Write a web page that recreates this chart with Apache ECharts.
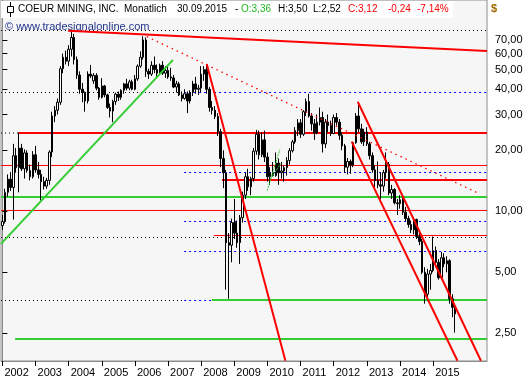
<!DOCTYPE html>
<html><head><meta charset="utf-8">
<script src="https://cdn.jsdelivr.net/npm/echarts@6/dist/echarts.min.js"></script>
<style>html,body{margin:0;padding:0;background:#fff}#c{width:523px;height:380px}</style>
</head><body><div id="c"></div>
<script>
// ---------- DATA ----------
const firstYear = 2002;
const monthCount = 176; // Jan 2002 .. Aug 2016 (axis room)
const yearLabels = ['2002','2003','2004','2005','2006','2007','2008','2009','2010','2011','2012','2013','2014','2015'];
const priceTicks = [2.5, 5, 10, 20, 30, 40, 50, 60, 70];

// monthly OHLC, Jan 2002 .. Sep 2015
const open = [
8.5,8.9,12.4,14.4,13.1,18.8,16.4,20.5,16.2,19.4,15.9,14.8,
19.0,16.0,15.2,14.0,13.3,14.2,19.6,29.5,31.5,34.5,50.5,57.5,
55,63,72,56,47,40,38.5,35,47.5,44,46.8,40.5,
36.5,41.5,37.5,32.5,31.2,34.8,37.8,36.5,39.5,42.5,40.5,43.5,
40,45,52,57.5,70,49,47.5,52.5,50,48,52.5,48,
49.5,46,45.5,41,42.5,37.5,36,38,35,38.5,42.5,40,
40.5,47.5,50,40,32.5,31.5,29.3,24.7,18.2,15.5,7.0,6.8,
8.8,7.8,7.0,9.3,12.0,14.8,13.2,14.5,19.8,24.0,19.0,22.5,
18.5,14.8,15.5,15.0,17.3,15.5,15.8,16.4,17.8,19.9,22.0,25.0,
27.3,24.0,31.0,34.8,29.5,27.0,24.3,27.5,29.0,21.5,27.5,26.5,
24.2,29.0,27.5,23.7,21.0,16.5,17.6,16.9,21.8,29.5,25.5,22.0,
24.6,21.5,18.8,16.0,14.2,13.5,13.3,15.5,17.0,12.3,12.8,11.0,
10.9,11.4,9.9,9.2,8.6,8.1,9.1,7.5,7.1,5.0,3.9,4.9,
5.1,6.4,5.6,4.7,5.9,5.5,5.7,3.7,3.36];
const high = [
9.6,12.9,15.2,15.6,21.5,20.5,24.4,21.5,20.2,20.0,17.0,19.8,
21.0,17.5,16.0,14.8,14.6,20.0,31.0,33.0,36.0,52.0,60.0,62.0,
66,77.5,75,58,49,43,39,49,52.7,48,48,41,
45.3,42,38,34,35.5,38.5,39,40,43,45,44.5,44.5,
47,53,61.5,73,72,50.5,55,58,53,53.5,55,52,
52.5,51,47,44,43.5,39,40,39,39.5,44,46,42,
52,52,53.3,41,35,33,30.5,25.5,20.0,16,7.8,9.2,
11.5,9.0,9.6,12.5,15.5,16.2,14.8,20.5,25.2,25.0,24.5,25.0,
19.5,16.5,17.5,19.5,18.2,17.5,16.8,18.5,20.5,22.5,26.0,28.5,
28.5,31.5,36.0,38.0,30.5,28.5,30.0,32.5,31.0,28.5,30.0,28.0,
30.0,30.5,28.5,24.5,21.5,18.3,18.0,22.0,30.5,33.5,27.0,25.5,
26.0,22.0,19.5,16.8,17.6,15.5,16.0,19.5,17.5,13.5,13.0,11.5,
12.0,11.8,10.5,9.5,9.0,9.3,9.2,8.0,7.3,5.3,5.2,5.5,
7.5,6.7,5.8,6.3,6.2,6.0,5.8,3.9,3.50];
const low = [
8.1,8.7,11.8,12.6,9.1,15.5,12.4,15.8,14.5,15.5,14.2,14.5,
15.5,14.5,11.3,12.8,12.9,13.5,18.5,27.5,30.0,33.5,48.0,53.0,
52,58,53,45,38,34.5,31,34,45.5,42.5,39.5,35.5,
36,36.5,32,29,27.5,33.5,35,35.5,38,39.5,39.5,39.5,
39.5,44,51,56,46,45,46.5,48,46,47,47,45.5,
45,44,40.5,38.5,37,34.8,35.5,30.5,34,37,38,37.5,
38.5,44,38,31,30,28.5,23.5,16.5,13.0,4.1,3.7,5.6,
7.3,6.6,5.5,8.8,11.5,12.6,12.0,14.0,19.0,18.0,18.5,17.5,
14.0,13.5,14.8,14.8,13.5,14.5,14.0,15.0,17.0,19.5,21.5,23.5,
23.0,23.5,29.5,29.0,25.0,22.5,24.0,26.5,19.5,20.5,24.5,23.5,
24.0,26.5,22.5,20.0,15.5,15.2,15.3,16.5,21.5,24.5,21.5,21.0,
21.0,18.0,15.5,13.0,13.0,11.5,12.5,14.5,12.0,11.5,10.8,9.6,
10.3,9.6,8.9,8.3,7.8,7.7,7.3,6.8,4.9,3.5,3.6,4.1,
5.0,5.3,4.6,4.6,5.3,5.0,3.5,3.0,2.52];
const close = [
8.9,12.4,14.4,13.1,18.8,16.4,20.5,16.2,19.4,15.9,14.8,19.0,
16.0,15.2,14.0,13.3,14.2,19.6,29.5,31.5,34.5,50.5,57.5,55.0,
63,72,56,47,40,38.5,35,47.5,46.5,46.8,40.5,36.5,
41.5,37.5,32.5,31.2,34.8,37.8,36.5,39.5,42.5,40.5,43.5,40.0,
45,52,57.5,70,49,47.5,52.5,50,48,52.5,48,49.5,
46,45.5,41,42.5,37.5,36,38,35,38.5,42.5,40,40.5,
47.5,50,40,32.5,31.5,29.3,24.7,18.2,15.5,7.0,6.8,8.8,
7.8,7.0,9.3,12.0,14.8,13.2,14.5,19.8,24.0,19.0,22.5,18.5,
14.8,15.5,15.0,17.3,15.5,15.8,16.4,17.8,19.9,22.0,25.0,27.3,
24.0,31.0,34.8,29.5,27.0,24.3,27.5,29.0,21.5,27.5,26.5,24.2,
29.0,27.5,23.7,21.0,16.5,17.6,16.9,21.8,29.5,25.5,22.0,24.6,
21.5,18.8,16.0,14.2,13.5,13.3,15.5,17.0,12.3,12.8,11.0,10.9,
11.4,9.9,9.2,8.6,8.1,9.1,7.5,7.1,5.0,3.9,4.9,5.1,
6.4,5.6,4.7,5.9,5.5,5.7,3.7,3.36,3.12];

// horizontal levels: [price, fromMonthIdx, toMonthIdx]
const levelsBlackDotted = [[77.93,-0.5,175.5],[38.54,-0.5,65.8],[24.32,-0.5,5.7],[7.424,-0.5,175.5],[3.629,-0.5,65.8]];
const levelsBlueDotted  = [[38.54,65.8,175.5],[15.53,65.8,175.5],[11.70,65.8,175.5],[8.904,65.8,175.5],[6.331,65.8,175.5],[3.629,65.8,175.5]];
const levelsRedThick    = [[24.32,5.7,175.5],[14.26,79.5,175.5]];
const levelsRedThin     = [[16.82,-0.5,175.5],[10.09,-0.5,175.5],[7.595,76.6,175.5]];
const levelsGreenThick  = [[11.76,-0.5,175.5],[3.650,75.9,175.5],[2.344,4.6,175.5]];
// trend lines: [[monthIdx, price],[monthIdx, price]]
const trendsRed       = [[[23.8,77.8],[175.5,61.8]],[[74.0,53.3],[102.5,1.83]],[[128.7,34.7],[173.3,1.83]],[[126.5,22.05],[164.8,1.83]]];
const trendsRedDotted = [[[52.3,72.7],[172.2,12.3]]];
const trendsGreen     = [[[-0.5,6.9],[61.8,55.8]]];
const trendsGreenThin = [[[95.9,12.66],[100.5,20.2]],[[96.9,14.3],[100.8,17.2]]];

// ---------- CHART ----------
const L = v => Math.log10(v);
const months = [];
for (let i = 0; i < monthCount; i++) {
  const y = firstYear + Math.floor(i / 12), m = i % 12 + 1;
  months.push(y + '-' + (m < 10 ? '0' + m : m));
}
const isYearTick = (idx, val) => val.endsWith('-01') && yearLabels.indexOf(val.slice(0, 4)) >= 0;
const candles = open.map((o, i) => [L(o), L(close[i]), L(low[i]), L(high[i])]);

const FONT = 'Liberation Sans';
const series = [{
  type: 'candlestick', xAxisIndex: 0, yAxisIndex: 0, data: candles, barWidth: 2, z: 5,
  itemStyle: { color: '#ffffff', color0: '#000000', borderColor: '#000000', borderColor0: '#000000', borderWidth: 1 },
  emphasis: { disabled: true }, animation: false
}];
function addLines(list, style, z, isLevel) {
  list.forEach(it => {
    const pts = isLevel ? [[it[1], L(it[0])], [it[2], L(it[0])]] : it.map(p => [p[0], L(p[1])]);
    series.push({ type: 'line', xAxisIndex: 1, yAxisIndex: 0, data: pts, symbol: 'none', silent: true,
      lineStyle: style, z: z, animation: false });
  });
}
addLines(levelsBlackDotted, { color: '#000', width: 1, type: [1, 3] }, 3, true);
addLines(levelsBlueDotted, { color: '#0000ff', width: 1, type: [2, 3] }, 3, true);
addLines(levelsRedThin, { color: '#ff0000', width: 1 }, 3, true);
addLines(levelsRedThick, { color: '#ff0000', width: 2 }, 4, true);
addLines(levelsGreenThick, { color: '#33cc33', width: 2 }, 4, true);
addLines(trendsRed, { color: '#ff0000', width: 2 }, 6, false);
addLines(trendsRedDotted, { color: '#ff0000', width: 1.3, type: [1.5, 4] }, 6, false);
addLines(trendsGreen, { color: '#33cc33', width: 2 }, 6, false);
addLines(trendsGreenThin, { color: '#33cc33', width: 1, type: [2, 1] }, 6, false);

const tickLogs = priceTicks.map(L);
const TF = '10px "Liberation Sans"';
const chart = echarts.init(document.getElementById('c'), null, { renderer: 'canvas' });
chart.setOption({
  animation: false,
  textStyle: { fontFamily: FONT },
  grid: { left: 1, right: 36, top: 0, bottom: 19, show: true, backgroundColor: '#f6f6f6',
          borderColor: '#8c8c8c', borderWidth: 1, containLabel: false, outerBoundsMode: 'none' },
  xAxis: [{
    type: 'category', data: months, boundaryGap: true,
    axisLine: { show: true, lineStyle: { color: '#8c8c8c' } },
    axisTick: { show: true, alignWithLabel: true, interval: isYearTick, length: 5, lineStyle: { color: '#000' } },
    axisLabel: { interval: isYearTick, formatter: v => v.slice(0, 4), align: 'left', padding: [0, 0, 0, 2],
                 margin: 6, fontSize: 11, color: '#000', fontFamily: FONT, hideOverlap: false },
    splitLine: { show: false }
  }, {
    type: 'value', min: -0.5, max: 175.5, show: false
  }],
  yAxis: [{
    type: 'value', position: 'right', min: 0.2613, max: 2.0422, scale: true,
    axisLine: { show: true, lineStyle: { color: '#8c8c8c' } },
    axisTick: { show: true, length: 5, customValues: tickLogs, lineStyle: { color: '#000' } },
    axisLabel: { customValues: tickLogs, formatter: v => Math.pow(10, v).toFixed(2).replace('.', ','),
                 color: '#000', fontSize: 11, fontFamily: FONT, margin: 8 },
    splitLine: { show: false }
  }],
  series: series,
  graphic: [
    { type: 'text', z: 1, left: 5, top: 21, style: { text: '\u00a9 www.tradesignalonline.com', fill: '#22348a', font: '11px "Liberation Sans"' } },
    { type: 'rect', z: 100, shape: { x: 1, y: 1, width: 452, height: 17 }, style: { fill: '#ffffff' } },
    { type: 'line', z: 101, shape: { x1: 10.5, y1: 2, x2: 10.5, y2: 17 }, style: { stroke: '#000', lineWidth: 1 } },
    { type: 'rect', z: 102, shape: { x: 7.5, y: 6.5, width: 6, height: 6 }, style: { fill: '#fff', stroke: '#000', lineWidth: 1 } },
    { type: 'text', z: 103, x: 18, y: 4, style: { text: 'COEUR MINING, INC.', fill: '#000', font: TF } },
    { type: 'text', z: 103, x: 124, y: 4, style: { text: 'Monatlich', fill: '#000', font: TF } },
    { type: 'text', z: 103, x: 177, y: 4, style: { text: '30.09.2015', fill: '#000', font: TF } },
    { type: 'text', z: 103, x: 235, y: 4, style: { text: '-', fill: '#000', font: TF } },
    { type: 'text', z: 103, x: 241, y: 4, style: { text: 'O:3,36', fill: '#22b822', font: TF } },
    { type: 'text', z: 103, x: 278, y: 4, style: { text: 'H:3,50', fill: '#000', font: TF } },
    { type: 'text', z: 103, x: 313, y: 4, style: { text: 'L:2,52', fill: '#000', font: TF } },
    { type: 'text', z: 103, x: 348, y: 4, style: { text: 'C:3,12', fill: '#ff0000', font: TF } },
    { type: 'text', z: 103, x: 388, y: 4, style: { text: '-0,24', fill: '#ff0000', font: TF } },
    { type: 'text', z: 103, x: 417, y: 4, style: { text: '-7,14%', fill: '#ff0000', font: TF } },
    { type: 'text', z: 103, x: 491, y: 3, style: { text: '$', fill: '#a06a00', font: 'bold 11px "Liberation Sans"' } }
  ]
});
</script></body></html>
